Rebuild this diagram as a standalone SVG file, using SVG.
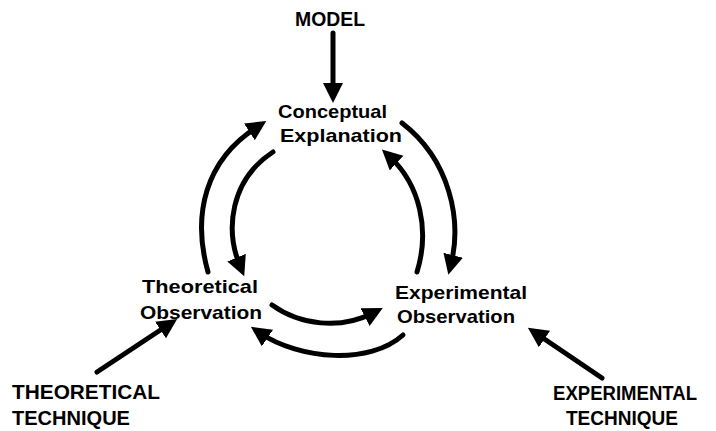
<svg xmlns="http://www.w3.org/2000/svg" width="716" height="431" viewBox="0 0 716 431">
<style>
text{font-family:"Liberation Sans","DejaVu Sans",sans-serif;font-weight:bold;fill:#000}
.lo{font-size:19px}
.up{font-size:20px}
.c{fill:none;stroke:#000;stroke-width:5;stroke-linecap:round;marker-end:url(#ah)}
</style>
<defs>
<marker id="ah" markerUnits="userSpaceOnUse" markerWidth="24" markerHeight="24" refX="9" refY="10" orient="auto">
<path d="M0,0 L20,10 L0,20 Z" fill="#000"/>
</marker>
</defs>
<rect width="716" height="431" fill="#fff"/>
<g id="connectors">
<path class="c" d="M333,33 L333,92"/>
<path class="c" d="M208,272 C192,215 205,160 257,127"/>
<path class="c" d="M273,152 C230,180 225,230 240,266"/>
<path class="c" d="M402,123 C450,160 462,220 451,264"/>
<path class="c" d="M417,272 C430,230 420,185 390,157"/>
<path class="c" d="M272,305 C300,325 340,330 373,313"/>
<path class="c" d="M403,335 C370,365 300,360 260,333"/>
<path class="c" d="M97,372 L168,325"/>
<path class="c" d="M602,378 L537,334"/>
</g>
<g id="model"><text class="up" x="295" y="26" textLength="70" lengthAdjust="spacingAndGlyphs">MODEL</text></g>
<g id="conceptual">
<text class="lo" x="278" y="118" textLength="109" lengthAdjust="spacingAndGlyphs">Conceptual</text>
<text class="lo" x="280" y="142" textLength="122" lengthAdjust="spacingAndGlyphs">Explanation</text>
</g>
<g id="theoretical-obs">
<text class="lo" x="142" y="293" textLength="116" lengthAdjust="spacingAndGlyphs">Theoretical</text>
<text class="lo" x="140" y="319" textLength="122" lengthAdjust="spacingAndGlyphs">Observation</text>
</g>
<g id="experimental-obs">
<text class="lo" x="395" y="299" textLength="132" lengthAdjust="spacingAndGlyphs">Experimental</text>
<text class="lo" x="397" y="323" textLength="118" lengthAdjust="spacingAndGlyphs">Observation</text>
</g>
<g id="theoretical-tech">
<text class="up" x="12" y="399" textLength="148" lengthAdjust="spacingAndGlyphs">THEORETICAL</text>
<text class="up" x="12" y="425" textLength="118" lengthAdjust="spacingAndGlyphs">TECHNIQUE</text>
</g>
<g id="experimental-tech">
<text class="up" x="553" y="400" textLength="144" lengthAdjust="spacingAndGlyphs">EXPERIMENTAL</text>
<text class="up" x="566" y="425" textLength="112" lengthAdjust="spacingAndGlyphs">TECHNIQUE</text>
</g>
</svg>
